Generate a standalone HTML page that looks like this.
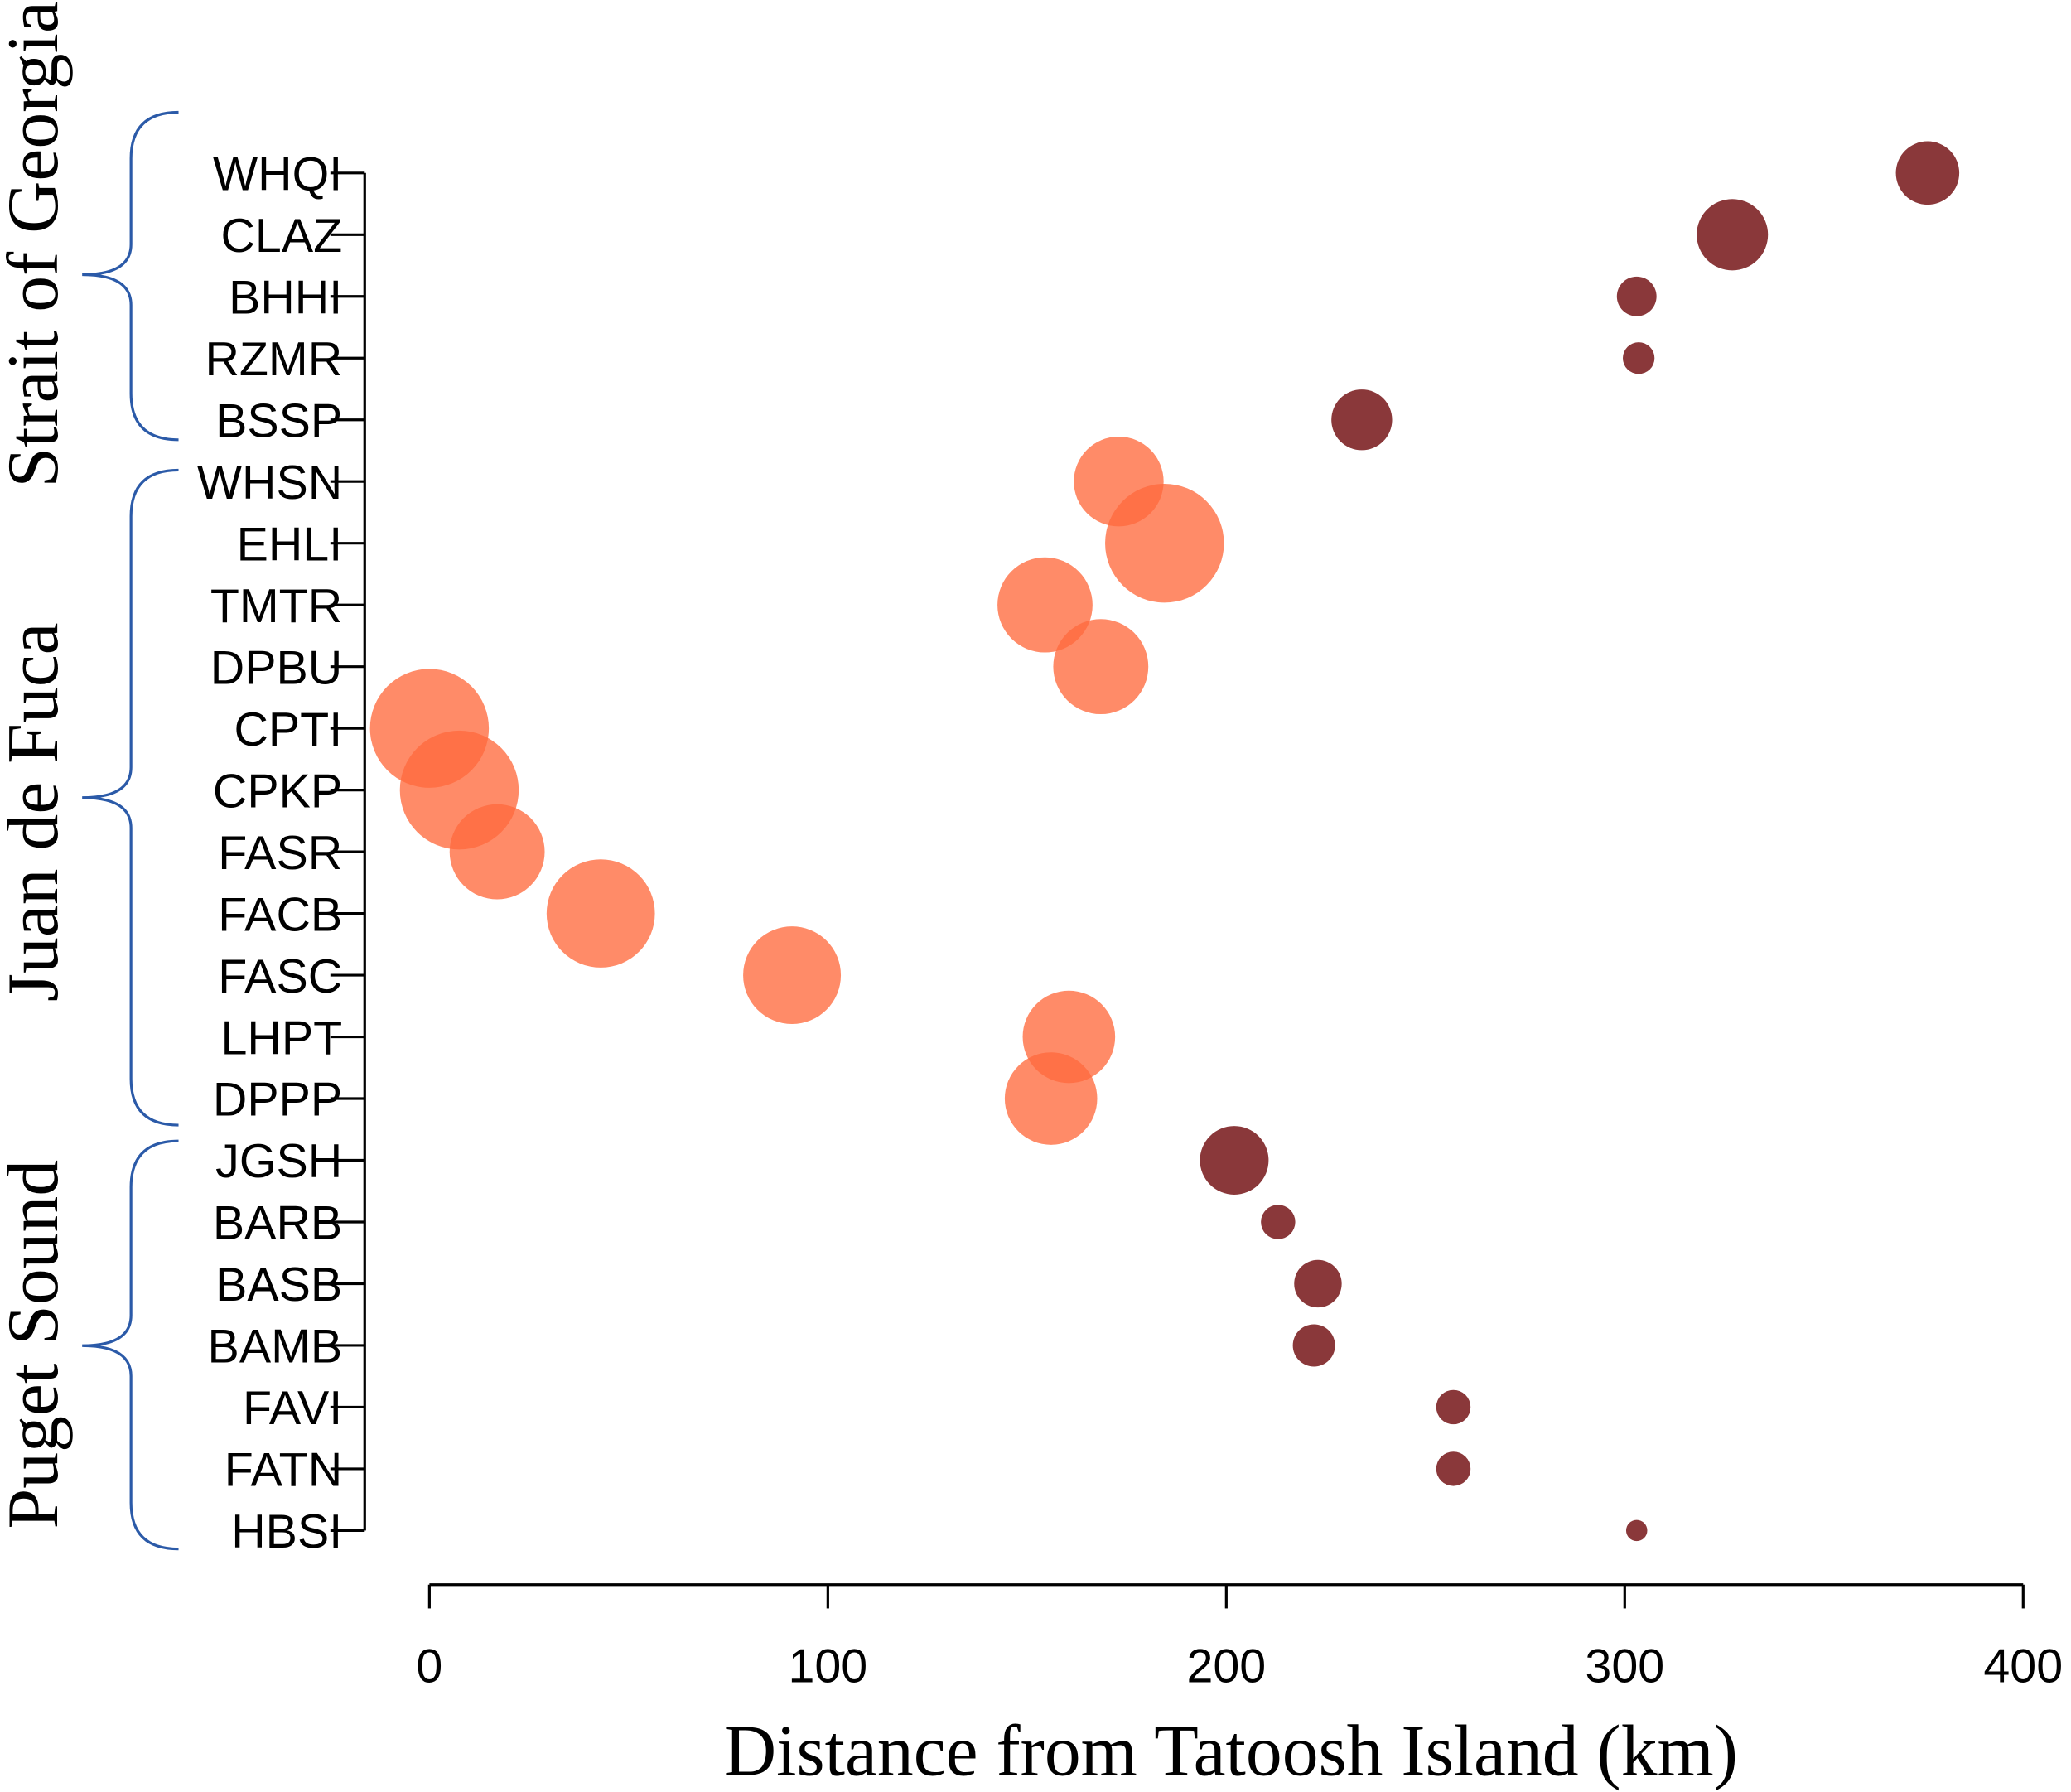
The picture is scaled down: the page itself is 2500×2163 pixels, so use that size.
<!DOCTYPE html>
<html><head><meta charset="utf-8"><style>html,body{margin:0;padding:0;background:#fff}svg{display:block}</style></head>
<body>
<svg id="chart" width="2500" height="2163" viewBox="0 0 1568 1357" xmlns="http://www.w3.org/2000/svg">
<g id="axes"></g><g id="marks"></g><g id="groups"></g>
<text x="932" y="1344" text-anchor="middle" font-family="Liberation Serif, serif" font-size="55">Distance from Tatoosh Island (km)</text>
</svg>
<script>
const stations = ["WHQI","CLAZ","BHHI","RZMR","BSSP","WHSN","EHLI","TMTR","DPBU","CPTI","CPKP","FASR","FACB","FASC","LHPT","DPPP","JGSH","BARB","BASB","BAMB","FAVI","FATN","HBSI"];
const distances = [376,327,303,303.5,234,173,184.5,154.5,168.5,0,7.5,17,43,91,160.5,156,202,213,223,222,257,257,303];
const sizes = [24,27,15,12,23,34,45,36,36,45,45,36,41,37,35,35,26,13,18,16,13,13,8];
const isJuan = [0,0,0,0,0,1,1,1,1,1,1,1,1,1,1,1,0,0,0,0,0,0,0];
const xTicks = [0,100,200,300,400];
const groupNames = ["Strait of Georgia","Juan de Fuca","Puget Sound"];
const braceTop = [85,356,864];
const braceBottom = [333,852,1173];
const braceTip = [208,604,1019];
const labelCenter = [185,615,1018];

const NS="http://www.w3.org/2000/svg";
const x = v => 325 + v*(1532-325)/400;
const y = i => 131 + i*(1159-131)/22;
function mk(t,a,p){const e=document.createElementNS(NS,t);for(const k in a)e.setAttribute(k,a[k]);p.appendChild(e);return e;}
const axes=document.getElementById('axes'),marks=document.getElementById('marks'),groups=document.getElementById('groups');

let l=mk('line',{x1:276,y1:y(0),x2:276,y2:y(22),stroke:'#000','stroke-width':2},axes);


stations.forEach((s,i)=>{
  const t=mk('line',{x1:250,y1:y(i),x2:276,y2:y(i),stroke:'#000','stroke-width':2},axes);
  
  
  const tx=mk('text',{x:259,y:y(i)+13,'text-anchor':'end','font-family':'Liberation Sans, sans-serif','font-size':36},axes);
  tx.textContent=s;
  
  
});
l=mk('line',{x1:x(0),y1:1200,x2:x(400),y2:1200,stroke:'#000','stroke-width':2},axes);


xTicks.forEach(v=>{
  const t=mk('line',{x1:x(v),y1:1200,x2:x(v),y2:1218,stroke:'#000','stroke-width':2},axes);
  
  
  const tx=mk('text',{x:x(v),y:1274,'text-anchor':'middle','font-family':'Liberation Sans, sans-serif','font-size':36},axes);
  tx.textContent=v;
  
  
});
stations.forEach((s,i)=>{
  const c=mk('circle',{cx:x(distances[i]),cy:y(i),r:sizes[i],fill:isJuan[i]?'#ff6a3d':'#8a383a','fill-opacity':isJuan[i]?0.78:1},marks);
  
  
});
groupNames.forEach((g,k)=>{
  const a=braceTop[k], b=braceBottom[k], m=braceTip[k];
  const p=mk('path',{d:`M135,${a} Q99,${a} 99,${a+35} L99,${m-23} Q99,${m} 62,${m} Q99,${m} 99,${m+23} L99,${b-35} Q99,${b} 135,${b}`,fill:'none',stroke:'#2b5aa8','stroke-width':2},groups);
  
  
  const t=mk('text',{x:0,y:0,transform:`translate(43,${labelCenter[k]}) rotate(-90)`,'text-anchor':'middle','font-family':'Liberation Serif, serif','font-size':55},groups);
  t.textContent=g;
  
  
});
</script>
</body></html>
